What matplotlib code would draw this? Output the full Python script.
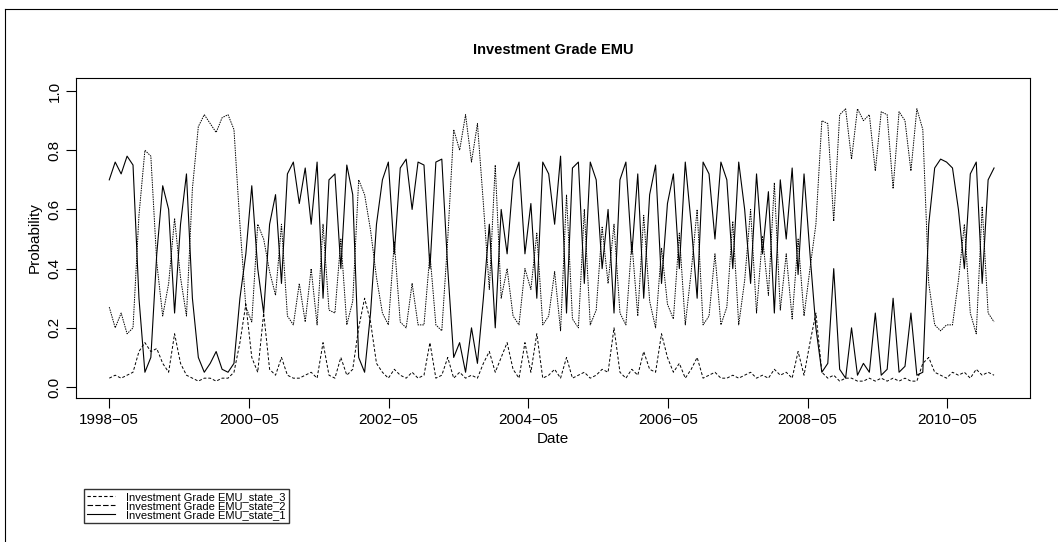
import numpy as np
import pandas as pd
import matplotlib
matplotlib.use("Agg")
import matplotlib.pyplot as plt
from matplotlib.lines import Line2D

plt.rcParams['font.family'] = ['Liberation Sans', 'DejaVu Sans']

# monthly-ish probabilities, 1998-05 .. 2011-01
state_1 = [0.70, 0.76, 0.72, 0.78, 0.75, 0.30, 0.05, 0.10,
           0.45, 0.68, 0.60, 0.25, 0.55, 0.72, 0.30, 0.10, 0.05, 0.08, 0.12, 0.06,
           0.05, 0.08, 0.30, 0.45, 0.68, 0.40, 0.25, 0.55, 0.65, 0.35, 0.72, 0.76,
           0.62, 0.74, 0.55, 0.76, 0.30, 0.70, 0.72, 0.40, 0.75, 0.65, 0.10, 0.05,
           0.25, 0.55, 0.70, 0.76, 0.45, 0.74, 0.77, 0.60, 0.76, 0.75, 0.40, 0.76,
           0.77, 0.40, 0.10, 0.15, 0.05, 0.20, 0.08, 0.30, 0.55, 0.20, 0.60, 0.45,
           0.70, 0.76, 0.45, 0.62, 0.30, 0.76, 0.72, 0.55, 0.78, 0.25, 0.74, 0.76,
           0.35, 0.76, 0.70, 0.40, 0.60, 0.25, 0.70, 0.76, 0.45, 0.72, 0.30, 0.65,
           0.75, 0.35, 0.62, 0.72, 0.40, 0.76, 0.55, 0.30, 0.76, 0.72, 0.50, 0.76,
           0.70, 0.40, 0.76, 0.60, 0.35, 0.72, 0.45, 0.66, 0.25, 0.70, 0.50, 0.74,
           0.38, 0.72, 0.45, 0.20, 0.05, 0.08, 0.40, 0.06, 0.03, 0.20, 0.04, 0.08,
           0.05, 0.25, 0.04, 0.06, 0.30, 0.05, 0.07, 0.25, 0.04, 0.05, 0.55, 0.74,
           0.77, 0.76, 0.74, 0.60, 0.40, 0.72, 0.76, 0.35, 0.70, 0.74]
state_3 = [0.03, 0.04, 0.03, 0.04, 0.05, 0.12, 0.15, 0.12,
           0.13, 0.08, 0.05, 0.18, 0.08, 0.04, 0.03, 0.02, 0.03, 0.03, 0.02, 0.03,
           0.03, 0.05, 0.15, 0.28, 0.10, 0.05, 0.25, 0.06, 0.04, 0.10, 0.04, 0.03,
           0.03, 0.04, 0.05, 0.03, 0.15, 0.04, 0.03, 0.10, 0.04, 0.06, 0.20, 0.30,
           0.22, 0.08, 0.05, 0.03, 0.06, 0.04, 0.03, 0.05, 0.03, 0.04, 0.15, 0.03,
           0.04, 0.10, 0.03, 0.05, 0.03, 0.04, 0.03, 0.08, 0.12, 0.05, 0.10, 0.15,
           0.06, 0.03, 0.15, 0.05, 0.18, 0.03, 0.04, 0.06, 0.03, 0.10, 0.03, 0.04,
           0.05, 0.03, 0.04, 0.06, 0.05, 0.20, 0.05, 0.03, 0.06, 0.04, 0.12, 0.06,
           0.05, 0.18, 0.10, 0.05, 0.08, 0.03, 0.06, 0.10, 0.03, 0.04, 0.05, 0.03,
           0.03, 0.04, 0.03, 0.04, 0.05, 0.03, 0.04, 0.03, 0.06, 0.04, 0.05, 0.03,
           0.12, 0.04, 0.15, 0.25, 0.05, 0.03, 0.04, 0.02, 0.03, 0.03, 0.02, 0.02,
           0.03, 0.02, 0.03, 0.02, 0.03, 0.02, 0.03, 0.02, 0.02, 0.08, 0.10, 0.05,
           0.04, 0.03, 0.05, 0.04, 0.05, 0.03, 0.06, 0.04, 0.05, 0.04]
dates = pd.date_range('1998-05-01', '2011-01-01', periods=len(state_1))
s1 = np.array(state_1)
s3 = np.array(state_3)
s2 = 1 - s1 - s3  # probabilities sum to one

tick_labels = ['1998-05', '2000-05', '2002-05', '2004-05', '2006-05', '2008-05', '2010-05']
names = ['Investment Grade EMU_state_3', 'Investment Grade EMU_state_2', 'Investment Grade EMU_state_1']

W, H = 1058, 542
fig = plt.figure(figsize=(W / 100, H / 100), dpi=100)
ax = fig.add_axes([76 / W, 1 - 398 / H, (1030 - 76) / W, (398 - 78) / H])

ax.plot(dates, s3, color='black', lw=0.7, ls=(0, (3, 2)))
ax.plot(dates, s2, color='black', lw=0.7, ls=(0, (1.5, 1)))
ax.plot(dates, s1, color='black', lw=0.8)

ax.set_ylim(-0.037, 1.044)
ax.set_xlim(pd.Timestamp('1997-11-08'), pd.Timestamp('2011-07-08'))
ax.set_yticks(np.arange(0, 1.01, 0.2))
ax.set_yticklabels([f'{v:.1f}' for v in np.arange(0, 1.01, 0.2)], rotation=90, va='center')
ax.set_xticks([pd.Timestamp(t + '-01') for t in tick_labels])
ax.set_xticklabels([t.replace('-', '\u2212') for t in tick_labels])
ax.tick_params(labelsize=11, length=7)
ax.set_title('Investment Grade EMU', fontsize=10.5, fontweight='bold', pad=17)
ax.set_xlabel('Date', fontsize=11)
ax.set_ylabel('Probability', fontsize=11)

handles = [Line2D([], [], color='black', lw=0.8, ls=(0, (3, 2))),
           Line2D([], [], color='black', lw=0.8, ls=(0, (5, 2))),
           Line2D([], [], color='black', lw=0.8)]
fig.legend(handles, names, loc='upper left', bbox_to_anchor=(78 / W, 1 - 483 / H),
           fontsize=8, frameon=True, fancybox=False, edgecolor='black',
           handlelength=2.5, labelspacing=-0.1, borderpad=0.3, handletextpad=1.0)

fig.add_artist(Line2D([5 / W, 5 / W], [0, 1 - 9 / H], color='black', lw=0.8, transform=fig.transFigure))
fig.add_artist(Line2D([5 / W, 1], [1 - 9 / H, 1 - 9 / H], color='black', lw=0.8, transform=fig.transFigure))

fig.savefig('out.png', dpi=100)
